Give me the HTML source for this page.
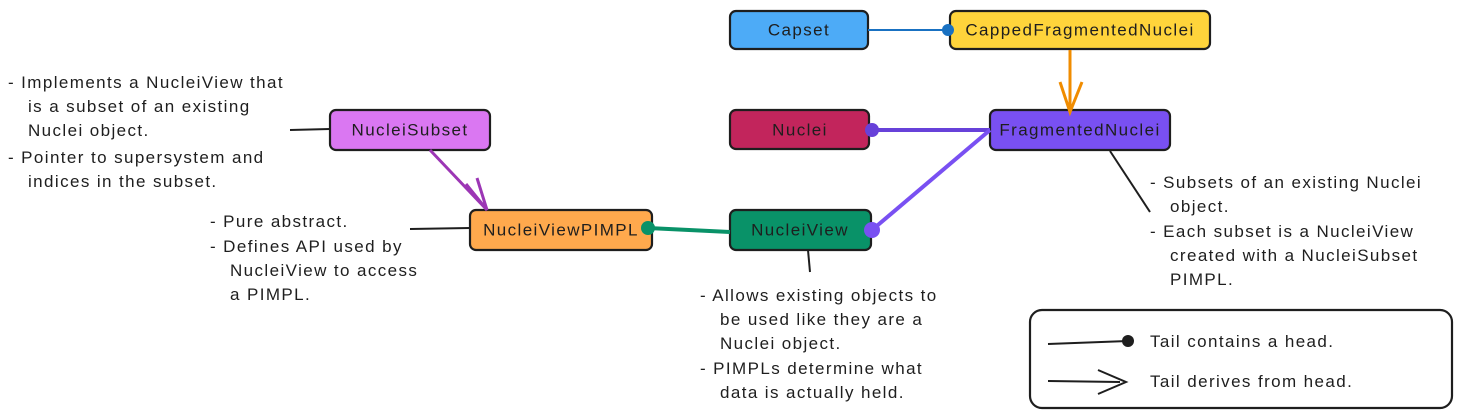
<!DOCTYPE html>
<html><head><meta charset="utf-8"><style>
html,body{margin:0;padding:0;background:#fff;}
svg{display:block;}
text{font-family:"Liberation Sans",sans-serif;font-size:17px;letter-spacing:1.4px;fill:#1e1e1e;}
.c{text-anchor:middle;dominant-baseline:central;}
</style></head><body>
<svg width="1466" height="420" viewBox="0 0 1466 420" xmlns="http://www.w3.org/2000/svg">
<g stroke="#1e1e1e" stroke-width="2.2">
<rect x="730" y="11" width="138" height="38" rx="6" fill="#4dabf7"/>
<rect x="950" y="11" width="260" height="38" rx="6" fill="#ffd43b"/>
<rect x="730" y="110" width="139" height="39" rx="6" fill="#c2255c"/>
<rect x="990" y="110" width="180" height="40" rx="6" fill="#7950f2"/>
<rect x="330" y="110" width="160" height="40" rx="6" fill="#da77f2"/>
<rect x="470" y="210" width="182" height="40" rx="6" fill="#ffa94d"/>
<rect x="730" y="210" width="141" height="40" rx="6" fill="#099268"/>
<rect x="1030" y="310" width="422" height="98" rx="12" fill="none"/>
</g>
<text class="c" x="799" y="30">Capset</text>
<text class="c" x="1080" y="30">CappedFragmentedNuclei</text>
<text class="c" x="800" y="130">Nuclei</text>
<text class="c" x="1080" y="130">FragmentedNuclei</text>
<text class="c" x="410" y="130">NucleiSubset</text>
<text class="c" x="561" y="230">NucleiViewPIMPL</text>
<text class="c" x="800" y="230">NucleiView</text>
<line x1="868" y1="30" x2="948" y2="30" stroke="#1971c2" stroke-width="2"/>
<circle cx="948" cy="30" r="6" fill="#1971c2"/>
<line x1="1070" y1="50" x2="1070" y2="112" stroke="#f08c00" stroke-width="3"/>
<polyline points="1060,82 1070,112 1082,82" fill="none" stroke="#f08c00" stroke-width="3"/>
<line x1="872" y1="130" x2="990" y2="130" stroke="#6741d9" stroke-width="4"/>
<circle cx="872" cy="130" r="7" fill="#6741d9"/>
<line x1="872" y1="230" x2="990" y2="130" stroke="#7950f2" stroke-width="4"/>
<circle cx="872" cy="230" r="8" fill="#7950f2"/>
<line x1="430" y1="150" x2="487" y2="210" stroke="#9c36b5" stroke-width="3"/>
<polyline points="466,184 487,210 477,178" fill="none" stroke="#9c36b5" stroke-width="3"/>
<line x1="648" y1="228" x2="730" y2="232" stroke="#099268" stroke-width="4"/>
<circle cx="648" cy="228" r="7" fill="#099268"/>
<g stroke="#1e1e1e" stroke-width="2">
<line x1="290" y1="130" x2="330" y2="129"/>
<line x1="410" y1="229" x2="470" y2="228"/>
<line x1="808" y1="250" x2="810" y2="272"/>
<line x1="1110" y1="151" x2="1150" y2="212"/>
<line x1="1048" y1="344" x2="1128" y2="341"/>
<line x1="1048" y1="381" x2="1120" y2="382"/>
<polyline points="1098,370 1126,382 1098,394" fill="none"/>
</g>
<circle cx="1128" cy="341" r="6" fill="#1e1e1e"/>
<g>
<text x="8" y="88">- Implements a NucleiView that</text>
<text x="28" y="112">is a subset of an existing</text>
<text x="28" y="136">Nuclei object.</text>
<text x="8" y="163">- Pointer to supersystem and</text>
<text x="28" y="187">indices in the subset.</text>
<text x="210" y="227">- Pure abstract.</text>
<text x="210" y="252">- Defines API used by</text>
<text x="230" y="276">NucleiView to access</text>
<text x="230" y="300">a PIMPL.</text>
<text x="700" y="301">- Allows existing objects to</text>
<text x="720" y="325">be used like they are a</text>
<text x="720" y="349">Nuclei object.</text>
<text x="700" y="374">- PIMPLs determine what</text>
<text x="720" y="398">data is actually held.</text>
<text x="1150" y="188">- Subsets of an existing Nuclei</text>
<text x="1170" y="212">object.</text>
<text x="1150" y="237">- Each subset is a NucleiView</text>
<text x="1170" y="261">created with a NucleiSubset</text>
<text x="1170" y="285">PIMPL.</text>
<text x="1150" y="347">Tail contains a head.</text>
<text x="1150" y="387">Tail derives from head.</text>
</g>
</svg>
</body></html>
